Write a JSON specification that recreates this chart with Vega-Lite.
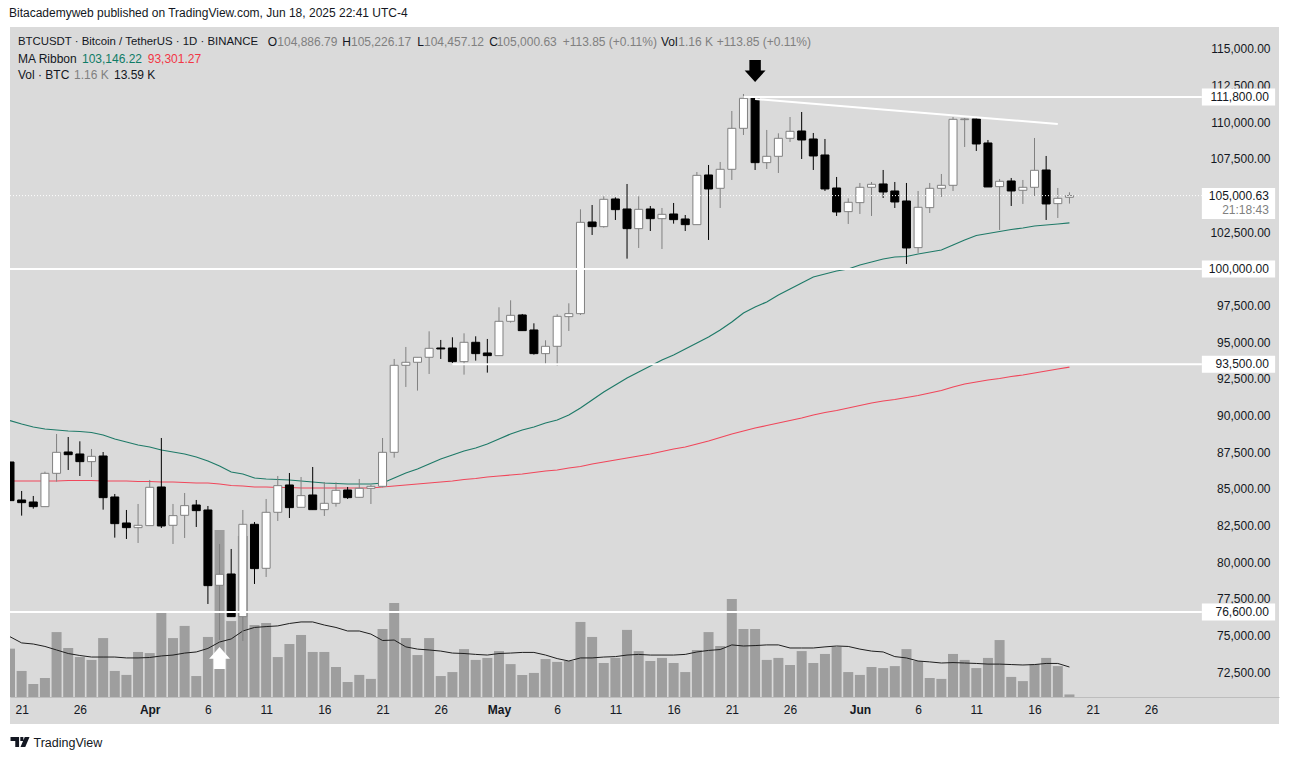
{
  "$schema": "https://vega.github.io/schema/vega-lite/v6.json",
  "width": 1269,
  "height": 697,
  "autosize": {"type": "none"},
  "padding": {"left": 10, "top": 27, "right": 10, "bottom": 36},
  "background": "#ffffff",
  "view": {"fill": "#dadada", "stroke": null},
  "config": {"font": "Liberation Sans", "scale": {"continuousPadding": 0}},
  "title": {
    "text": "Bitacademyweb published on TradingView.com, Jun 18, 2025 22:41 UTC-4",
    "anchor": "start",
    "fontSize": 12,
    "fontWeight": "normal",
    "color": "#131722",
    "offset": 7
  },
  "datasets": {
    "candles": [
      {"date":"2025-03-20","open":86834,"high":86834,"low":84198,"close":84198,"volume":21.9,"vol_ma":27.3,"ma50":89650,"ma200":85538},
      {"date":"2025-03-21","open":84243,"high":84857,"low":83175,"close":84061,"volume":11.8,"vol_ma":24.5,"ma50":89425,"ma200":85538},
      {"date":"2025-03-22","open":84107,"high":84516,"low":83652,"close":83788,"volume":5.9,"vol_ma":24.0,"ma50":89221,"ma200":85538},
      {"date":"2025-03-23","open":83788,"high":86175,"low":83788,"close":86061,"volume":8.6,"vol_ma":22.9,"ma50":89084,"ma200":85538},
      {"date":"2025-03-24","open":86061,"high":88744,"low":85493,"close":87493,"volume":29.4,"vol_ma":21.3,"ma50":89016,"ma200":85538},
      {"date":"2025-03-25","open":87516,"high":88539,"low":86289,"close":87334,"volume":22.2,"vol_ma":19.7,"ma50":88948,"ma200":85572},
      {"date":"2025-03-26","open":87380,"high":88244,"low":85880,"close":86857,"volume":18.1,"vol_ma":18.8,"ma50":88914,"ma200":85572},
      {"date":"2025-03-27","open":86857,"high":87721,"low":85811,"close":87221,"volume":16.8,"vol_ma":18.1,"ma50":88845,"ma200":85572},
      {"date":"2025-03-28","open":87243,"high":87516,"low":83584,"close":84402,"volume":26.7,"vol_ma":18.1,"ma50":88675,"ma200":85538},
      {"date":"2025-03-29","open":84448,"high":84652,"low":81674,"close":82629,"volume":11.8,"vol_ma":18.1,"ma50":88402,"ma200":85538},
      {"date":"2025-03-30","open":82675,"high":83561,"low":81584,"close":82356,"volume":10.0,"vol_ma":17.7,"ma50":88198,"ma200":85538},
      {"date":"2025-03-31","open":82356,"high":83970,"low":81311,"close":82516,"volume":20.4,"vol_ma":17.7,"ma50":87993,"ma200":85504},
      {"date":"2025-04-01","open":82493,"high":85607,"low":82493,"close":85107,"volume":19.9,"vol_ma":17.9,"ma50":87857,"ma200":85504},
      {"date":"2025-04-02","open":85130,"high":88471,"low":82334,"close":82470,"volume":38.1,"vol_ma":18.6,"ma50":87652,"ma200":85470},
      {"date":"2025-04-03","open":82516,"high":83970,"low":81243,"close":83175,"volume":26.7,"vol_ma":19.0,"ma50":87516,"ma200":85470},
      {"date":"2025-04-04","open":83198,"high":84720,"low":81652,"close":83857,"volume":32.2,"vol_ma":19.9,"ma50":87379,"ma200":85435},
      {"date":"2025-04-05","open":83902,"high":84243,"low":82402,"close":83516,"volume":9.5,"vol_ma":20.4,"ma50":87175,"ma200":85401},
      {"date":"2025-04-06","open":83561,"high":83834,"low":77151,"close":78401,"volume":27.2,"vol_ma":22.0,"ma50":86902,"ma200":85401},
      {"date":"2025-04-07","open":78424,"high":81243,"low":74696,"close":79174,"volume":75.7,"vol_ma":24.9,"ma50":86561,"ma200":85333},
      {"date":"2025-04-08","open":79197,"high":80902,"low":76287,"close":76287,"volume":34.4,"vol_ma":26.3,"ma50":86152,"ma200":85231},
      {"date":"2025-04-09","open":76287,"high":83561,"low":74628,"close":82584,"volume":72.9,"vol_ma":29.9,"ma50":86015,"ma200":85197},
      {"date":"2025-04-10","open":82584,"high":82743,"low":78515,"close":79561,"volume":32.6,"vol_ma":31.5,"ma50":85742,"ma200":85129},
      {"date":"2025-04-11","open":79583,"high":84311,"low":78992,"close":83402,"volume":33.5,"vol_ma":31.9,"ma50":85674,"ma200":85129},
      {"date":"2025-04-12","open":83402,"high":85880,"low":82811,"close":85220,"volume":18.1,"vol_ma":32.2,"ma50":85640,"ma200":85094},
      {"date":"2025-04-13","open":85266,"high":86084,"low":83016,"close":83720,"volume":24.0,"vol_ma":33.3,"ma50":85606,"ma200":85094},
      {"date":"2025-04-14","open":83743,"high":85811,"low":83743,"close":84539,"volume":28.1,"vol_ma":34.0,"ma50":85538,"ma200":85060},
      {"date":"2025-04-15","open":84584,"high":86493,"low":83584,"close":83584,"volume":20.4,"vol_ma":34.0,"ma50":85470,"ma200":85060},
      {"date":"2025-04-16","open":83584,"high":85470,"low":83152,"close":84016,"volume":20.4,"vol_ma":32.6,"ma50":85401,"ma200":85060},
      {"date":"2025-04-17","open":84016,"high":85448,"low":83788,"close":84902,"volume":13.6,"vol_ma":31.5,"ma50":85367,"ma200":85060},
      {"date":"2025-04-18","open":84925,"high":85130,"low":84311,"close":84402,"volume":6.8,"vol_ma":29.9,"ma50":85333,"ma200":85060},
      {"date":"2025-04-19","open":84425,"high":85675,"low":84425,"close":85038,"volume":10.0,"vol_ma":29.9,"ma50":85333,"ma200":85060},
      {"date":"2025-04-20","open":85038,"high":85266,"low":83970,"close":85175,"volume":8.2,"vol_ma":28.5,"ma50":85333,"ma200":85060},
      {"date":"2025-04-21","open":85175,"high":88471,"low":85107,"close":87493,"volume":30.8,"vol_ma":25.6,"ma50":85401,"ma200":85129},
      {"date":"2025-04-22","open":87493,"high":93860,"low":87130,"close":93428,"volume":42.6,"vol_ma":25.8,"ma50":85742,"ma200":85197},
      {"date":"2025-04-23","open":93428,"high":94678,"low":91951,"close":93633,"volume":26.7,"vol_ma":22.7,"ma50":86083,"ma200":85265},
      {"date":"2025-04-24","open":93633,"high":93974,"low":91701,"close":93974,"volume":19.0,"vol_ma":21.7,"ma50":86356,"ma200":85333},
      {"date":"2025-04-25","open":93974,"high":95747,"low":92837,"close":94587,"volume":26.7,"vol_ma":21.3,"ma50":86697,"ma200":85401},
      {"date":"2025-04-26","open":94610,"high":95156,"low":93860,"close":94542,"volume":9.5,"vol_ma":20.8,"ma50":87038,"ma200":85470},
      {"date":"2025-04-27","open":94610,"high":95337,"low":93587,"close":93678,"volume":11.3,"vol_ma":19.9,"ma50":87311,"ma200":85538},
      {"date":"2025-04-28","open":93678,"high":95610,"low":92792,"close":94997,"volume":21.7,"vol_ma":19.7,"ma50":87584,"ma200":85640},
      {"date":"2025-04-29","open":94997,"high":95406,"low":93746,"close":94224,"volume":16.8,"vol_ma":19.3,"ma50":87788,"ma200":85708},
      {"date":"2025-04-30","open":94269,"high":95224,"low":92928,"close":94087,"volume":17.7,"vol_ma":19.0,"ma50":88061,"ma200":85811},
      {"date":"2025-05-01","open":94087,"high":97383,"low":94087,"close":96429,"volume":20.8,"vol_ma":19.7,"ma50":88402,"ma200":85879},
      {"date":"2025-05-02","open":96429,"high":97861,"low":96338,"close":96838,"volume":14.9,"vol_ma":19.9,"ma50":88743,"ma200":85947},
      {"date":"2025-05-03","open":96861,"high":96929,"low":95792,"close":95792,"volume":10.0,"vol_ma":20.2,"ma50":89016,"ma200":86015},
      {"date":"2025-05-04","open":95838,"high":96292,"low":94156,"close":94224,"volume":10.9,"vol_ma":20.2,"ma50":89221,"ma200":86117},
      {"date":"2025-05-05","open":94224,"high":95133,"low":93519,"close":94724,"volume":17.2,"vol_ma":19.0,"ma50":89493,"ma200":86220},
      {"date":"2025-05-06","open":94724,"high":96906,"low":93406,"close":96769,"volume":15.9,"vol_ma":17.4,"ma50":89698,"ma200":86288},
      {"date":"2025-05-07","open":96747,"high":97656,"low":95770,"close":96951,"volume":16.3,"vol_ma":16.3,"ma50":90039,"ma200":86424},
      {"date":"2025-05-08","open":96951,"high":104066,"low":96860,"close":103179,"volume":34.0,"vol_ma":17.7,"ma50":90516,"ma200":86527},
      {"date":"2025-05-09","open":103202,"high":104361,"low":102316,"close":102884,"volume":27.2,"vol_ma":17.7,"ma50":91062,"ma200":86697},
      {"date":"2025-05-10","open":102884,"high":104952,"low":102816,"close":104748,"volume":15.4,"vol_ma":18.1,"ma50":91608,"ma200":86834},
      {"date":"2025-05-11","open":104771,"high":104884,"low":103339,"close":104043,"volume":17.7,"vol_ma":18.3,"ma50":92085,"ma200":86970},
      {"date":"2025-05-12","open":104089,"high":105793,"low":100702,"close":102748,"volume":30.4,"vol_ma":19.0,"ma50":92562,"ma200":87106},
      {"date":"2025-05-13","open":102748,"high":104952,"low":101429,"close":104066,"volume":20.8,"vol_ma":19.3,"ma50":92972,"ma200":87243},
      {"date":"2025-05-14","open":104089,"high":104293,"low":102588,"close":103429,"volume":16.3,"vol_ma":19.0,"ma50":93381,"ma200":87379},
      {"date":"2025-05-15","open":103429,"high":104157,"low":101361,"close":103725,"volume":17.7,"vol_ma":19.0,"ma50":93790,"ma200":87550},
      {"date":"2025-05-16","open":103748,"high":104498,"low":103089,"close":103361,"volume":15.4,"vol_ma":19.0,"ma50":94131,"ma200":87720},
      {"date":"2025-05-17","open":103407,"high":103679,"low":102588,"close":103020,"volume":11.3,"vol_ma":19.3,"ma50":94540,"ma200":87857},
      {"date":"2025-05-18","open":103020,"high":106612,"low":103020,"close":106384,"volume":21.3,"vol_ma":20.4,"ma50":94949,"ma200":88061},
      {"date":"2025-05-19","open":106408,"high":107090,"low":101976,"close":105454,"volume":29.4,"vol_ma":21.1,"ma50":95359,"ma200":88266},
      {"date":"2025-05-20","open":105499,"high":107295,"low":104158,"close":106795,"volume":23.1,"vol_ma":21.5,"ma50":95836,"ma200":88504},
      {"date":"2025-05-21","open":106795,"high":110772,"low":106067,"close":109590,"volume":44.4,"vol_ma":23.6,"ma50":96382,"ma200":88743},
      {"date":"2025-05-22","open":109590,"high":111932,"low":109136,"close":111636,"volume":30.8,"vol_ma":23.1,"ma50":96995,"ma200":88948},
      {"date":"2025-05-23","open":111659,"high":111727,"low":106749,"close":107249,"volume":30.8,"vol_ma":23.3,"ma50":97405,"ma200":89152},
      {"date":"2025-05-24","open":107249,"high":109477,"low":106817,"close":107681,"volume":16.8,"vol_ma":23.6,"ma50":97746,"ma200":89323},
      {"date":"2025-05-25","open":107681,"high":109250,"low":106545,"close":108909,"volume":17.7,"vol_ma":23.6,"ma50":98223,"ma200":89493},
      {"date":"2025-05-26","open":108909,"high":110363,"low":108659,"close":109386,"volume":14.5,"vol_ma":22.2,"ma50":98632,"ma200":89664},
      {"date":"2025-05-27","open":109409,"high":110704,"low":107499,"close":108795,"volume":20.8,"vol_ma":22.2,"ma50":99041,"ma200":89834},
      {"date":"2025-05-28","open":108863,"high":109272,"low":106749,"close":107704,"volume":15.4,"vol_ma":22.2,"ma50":99451,"ma200":90039},
      {"date":"2025-05-29","open":107772,"high":108863,"low":105317,"close":105454,"volume":19.5,"vol_ma":22.7,"ma50":99655,"ma200":90209},
      {"date":"2025-05-30","open":105522,"high":106272,"low":103613,"close":103885,"volume":22.7,"vol_ma":23.1,"ma50":99860,"ma200":90346},
      {"date":"2025-05-31","open":103908,"high":104817,"low":103067,"close":104544,"volume":11.3,"vol_ma":22.9,"ma50":99996,"ma200":90516},
      {"date":"2025-06-01","open":104522,"high":105863,"low":103749,"close":105567,"volume":10.0,"vol_ma":21.7,"ma50":100269,"ma200":90687},
      {"date":"2025-06-02","open":105567,"high":105931,"low":103613,"close":105772,"volume":13.6,"vol_ma":20.8,"ma50":100474,"ma200":90857},
      {"date":"2025-06-03","open":105795,"high":106749,"low":104840,"close":105249,"volume":13.1,"vol_ma":20.4,"ma50":100678,"ma200":90994},
      {"date":"2025-06-04","open":105317,"high":105931,"low":104158,"close":104567,"volume":14.0,"vol_ma":18.3,"ma50":100815,"ma200":91096},
      {"date":"2025-06-05","open":104635,"high":105863,"low":100339,"close":101430,"volume":21.7,"vol_ma":17.7,"ma50":100849,"ma200":91232},
      {"date":"2025-06-06","open":101453,"high":105317,"low":101090,"close":104204,"volume":16.3,"vol_ma":16.3,"ma50":101019,"ma200":91369},
      {"date":"2025-06-07","open":104181,"high":105863,"low":103817,"close":105499,"volume":8.6,"vol_ma":15.9,"ma50":101156,"ma200":91539},
      {"date":"2025-06-08","open":105499,"high":106476,"low":104908,"close":105704,"volume":8.2,"vol_ma":15.4,"ma50":101292,"ma200":91710},
      {"date":"2025-06-09","open":105704,"high":110363,"low":105317,"close":110204,"volume":19.5,"vol_ma":15.6,"ma50":101633,"ma200":91949},
      {"date":"2025-06-10","open":110181,"high":110295,"low":108318,"close":110227,"volume":16.8,"vol_ma":15.4,"ma50":101974,"ma200":92153},
      {"date":"2025-06-11","open":110227,"high":110272,"low":108045,"close":108522,"volume":13.1,"vol_ma":15.2,"ma50":102281,"ma200":92290},
      {"date":"2025-06-12","open":108590,"high":108795,"low":105590,"close":105590,"volume":17.7,"vol_ma":14.9,"ma50":102417,"ma200":92426},
      {"date":"2025-06-13","open":105613,"high":106136,"low":102658,"close":105976,"volume":25.8,"vol_ma":14.9,"ma50":102554,"ma200":92528},
      {"date":"2025-06-14","open":105999,"high":106204,"low":104294,"close":105317,"volume":9.1,"vol_ma":14.7,"ma50":102690,"ma200":92665},
      {"date":"2025-06-15","open":105363,"high":106067,"low":104431,"close":105567,"volume":7.2,"vol_ma":14.5,"ma50":102792,"ma200":92767},
      {"date":"2025-06-16","open":105567,"high":108931,"low":104976,"close":106727,"volume":14.9,"vol_ma":14.7,"ma50":102929,"ma200":92903},
      {"date":"2025-06-17","open":106749,"high":107704,"low":103340,"close":104431,"volume":17.7,"vol_ma":15.2,"ma50":102997,"ma200":93040},
      {"date":"2025-06-18","open":104454,"high":105522,"low":103476,"close":104817,"volume":14.0,"vol_ma":15.2,"ma50":103065,"ma200":93176},
      {"date":"2025-06-19","open":104886.79,"high":105226.17,"low":104457.12,"close":105000.63,"volume":1.16,"vol_ma":13.59,"ma50":103146.22,"ma200":93301.27}
    ],
    "levels": [
      {"date":"2025-05-22","end":"2025-06-30T09:00:00Z","price":111730},
      {"date":"2025-03-20","end":"2025-06-30T09:00:00Z","price":100000},
      {"date":"2025-04-27","end":"2025-06-30T09:00:00Z","price":93500},
      {"date":"2025-03-20","end":"2025-06-30T09:00:00Z","price":76600}
    ],
    "tags": [
      {"date":"2025-06-30T09:00:00Z","end":"2025-07-06T16:00:00Z","price":111730},
      {"date":"2025-06-30T09:00:00Z","end":"2025-07-06T16:00:00Z","price":100000},
      {"date":"2025-06-30T09:00:00Z","end":"2025-07-06T16:00:00Z","price":93500},
      {"date":"2025-06-30T09:00:00Z","end":"2025-07-06T16:00:00Z","price":76600}
    ],
    "tagtext": [
      {"date":"2025-06-30T09:00:00Z","price":111730,"label":"111,800.00","tone":"dark"},
      {"date":"2025-06-30T09:00:00Z","price":105000,"label":"105,000.63","tone":"dark"},
      {"date":"2025-06-30T09:00:00Z","price":104020,"label":"21:18:43","tone":"grey"},
      {"date":"2025-06-30T09:00:00Z","price":100000,"label":"100,000.00","tone":"dark"},
      {"date":"2025-06-30T09:00:00Z","price":93500,"label":"93,500.00","tone":"dark"},
      {"date":"2025-06-30T09:00:00Z","price":76600,"label":"76,600.00","tone":"dark"}
    ],
    "status": [
      {"date":"2025-04-11T03:12:00Z","price":115477,"label":"O","tone":"dark"},
      {"date":"2025-04-11T23:00:00Z","price":115477,"label":"104,886.79","tone":"grey"},
      {"date":"2025-04-17T13:00:00Z","price":115477,"label":"H","tone":"dark"},
      {"date":"2025-04-18T07:00:00Z","price":115477,"label":"105,226.17","tone":"grey"},
      {"date":"2025-04-23T23:36:00Z","price":115477,"label":"L","tone":"dark"},
      {"date":"2025-04-24T13:24:00Z","price":115477,"label":"104,457.12","tone":"grey"},
      {"date":"2025-04-30T04:00:00Z","price":115477,"label":"C","tone":"dark"},
      {"date":"2025-04-30T19:18:00Z","price":115477,"label":"105,000.63","tone":"grey"},
      {"date":"2025-05-06T11:18:00Z","price":115477,"label":"+113.85 (+0.11%)","tone":"grey"},
      {"date":"2025-05-14T22:00:00Z","price":115477,"label":"Vol","tone":"dark"},
      {"date":"2025-05-16T09:36:00Z","price":115477,"label":"1.16 K","tone":"grey"},
      {"date":"2025-05-19T16:48:00Z","price":115477,"label":"+113.85 (+0.11%)","tone":"grey"},
      {"date":"2025-03-20T16:30:00Z","price":114318,"label":"MA Ribbon","tone":"dark"},
      {"date":"2025-03-26T04:24:00Z","price":114318,"label":"103,146.22","tone":"green"},
      {"date":"2025-03-31T19:54:00Z","price":114318,"label":"93,301.27","tone":"red"},
      {"date":"2025-03-20T16:30:00Z","price":113193,"label":"Vol · BTC","tone":"dark"},
      {"date":"2025-03-25T11:54:00Z","price":113193,"label":"1.16 K","tone":"grey"},
      {"date":"2025-03-28T22:24:00Z","price":113193,"label":"13.59 K","tone":"dark"}
    ]
  },
  "encoding": {
    "x": {
      "field": "date",
      "type": "temporal",
      "title": null,
      "scale": {
        "type": "utc",
        "nice": false,
        "domain": [
          {"year": 2025, "month": "mar", "date": 20, "utc": true},
          {"year": 2025, "month": "jul", "date": 7, "utc": true}
        ]
      },
      "axis": null
    }
  },
  "layer": [
    {
      "data": {"name": "candles"},
      "encoding": {
        "x": {
          "field": "date",
          "type": "temporal",
          "scale": {
            "type": "utc",
            "nice": false,
            "domain": [
              {"year": 2025, "month": "mar", "date": 20, "utc": true},
              {"year": 2025, "month": "jul", "date": 7, "utc": true}
            ]
          },
          "axis": {
            "title": "TradingView",
            "titleFontSize": 12.5,
            "titleFontWeight": "normal",
            "titleColor": "#131722",
            "titleX": 23,
            "titleY": 45,
            "titleAlign": "left",
            "titleBaseline": "middle",
            "offset": -27,
            "ticks": false,
            "grid": false,
            "domainColor": "#bdbdbd",
            "labelColor": "#131722",
            "labelFontSize": 12,
            "labelPadding": 7,
            "labelOverlap": false,
            "labelFlush": false,
            "labelFontWeight": {"condition": {"test": "utcdate(datum.value) == 1", "value": "bold"}, "value": "normal"},
            "labelExpr": "utcdate(datum.value) == 1 ? utcFormat(datum.value, '%b') : utcFormat(datum.value, '%-d')",
            "values": [
              {"year": 2025, "month": "mar", "date": 21, "utc": true},
              {"year": 2025, "month": "mar", "date": 26, "utc": true},
              {"year": 2025, "month": "apr", "date": 1, "utc": true},
              {"year": 2025, "month": "apr", "date": 6, "utc": true},
              {"year": 2025, "month": "apr", "date": 11, "utc": true},
              {"year": 2025, "month": "apr", "date": 16, "utc": true},
              {"year": 2025, "month": "apr", "date": 21, "utc": true},
              {"year": 2025, "month": "apr", "date": 26, "utc": true},
              {"year": 2025, "month": "may", "date": 1, "utc": true},
              {"year": 2025, "month": "may", "date": 6, "utc": true},
              {"year": 2025, "month": "may", "date": 11, "utc": true},
              {"year": 2025, "month": "may", "date": 16, "utc": true},
              {"year": 2025, "month": "may", "date": 21, "utc": true},
              {"year": 2025, "month": "may", "date": 26, "utc": true},
              {"year": 2025, "month": "jun", "date": 1, "utc": true},
              {"year": 2025, "month": "jun", "date": 6, "utc": true},
              {"year": 2025, "month": "jun", "date": 11, "utc": true},
              {"year": 2025, "month": "jun", "date": 16, "utc": true},
              {"year": 2025, "month": "jun", "date": 21, "utc": true},
              {"year": 2025, "month": "jun", "date": 26, "utc": true}
            ]
          }
        }
      },
      "layer": [
        {
          "mark": {"type": "bar", "width": 10, "color": "#9e9e9e", "clip": true},
          "encoding": {
            "y": {"field": "volume", "type": "quantitative", "stack": null, "scale": {"domain": [-12.23, 303.5], "nice": false}, "axis": null}
          }
        },
        {
          "mark": {"type": "line", "color": "#1e1e1e", "strokeWidth": 1, "clip": true},
          "encoding": {
            "y": {"field": "vol_ma", "type": "quantitative", "scale": {"domain": [-12.23, 303.5], "nice": false}, "axis": null}
          }
        }
      ]
    },
    {
      "resolve": {"axis": {"y": "independent"}},
      "layer": [
        {
          "data": {"name": "candles"},
          "mark": {"type": "line", "color": "#f0475b", "strokeWidth": 1.2, "clip": true},
          "encoding": {
            "y": {
              "field": "ma200",
              "type": "quantitative",
              "scale": {"domain": [68965, 116500], "nice": false, "zero": false},
              "axis": {
                "orient": "right",
                "title": null,
                "ticks": false,
                "grid": false,
                "domain": false,
                "labelAlign": "right",
                "labelPadding": -9,
                "labelColor": "#131722",
                "labelFontSize": 12,
                "labelOverlap": false,
                "format": ",.2f",
                "values": [72500, 75000, 77500, 80000, 82500, 85000, 87500, 90000, 92500, 95000, 97500, 100000, 102500, 105000, 107500, 110000, 112500, 115000]
              }
            }
          }
        },
        {
          "data": {"name": "candles"},
          "mark": {"type": "line", "color": "#1f7a68", "strokeWidth": 1.2, "clip": true},
          "encoding": {
            "y": {"field": "ma50", "type": "quantitative", "scale": {"domain": [68965, 116500], "nice": false, "zero": false}, "axis": null}
          }
        },
        {
          "data": {"name": "candles"},
          "mark": {"type": "rule", "strokeWidth": 1, "clip": true},
          "encoding": {
            "y": {"field": "low", "type": "quantitative", "scale": {"domain": [68965, 116500], "nice": false, "zero": false}, "axis": null},
            "y2": {"field": "high"},
            "color": {"condition": {"test": "datum.close >= datum.open", "value": "#808080"}, "value": "#000000"}
          }
        },
        {
          "data": {"name": "candles"},
          "mark": {"type": "bar", "width": 8, "strokeWidth": 1, "clip": true},
          "encoding": {
            "y": {"field": "open", "type": "quantitative", "scale": {"domain": [68965, 116500], "nice": false, "zero": false}, "axis": null},
            "y2": {"field": "close"},
            "fill": {"condition": {"test": "datum.close >= datum.open", "value": "#ffffff"}, "value": "#000000"},
            "stroke": {"condition": {"test": "datum.close >= datum.open", "value": "#808080"}, "value": "#000000"}
          }
        },
        {
          "data": {"values": [{"date": "2025-03-20", "end": "2025-06-30T09:00:00Z", "price": 105000.63}]},
          "mark": {"type": "rule", "color": "#ffffff", "strokeWidth": 1, "strokeDash": [1, 2]},
          "encoding": {
            "y": {"field": "price", "type": "quantitative", "scale": {"domain": [68965, 116500], "nice": false, "zero": false}, "axis": null},
            "x2": {"field": "end"}
          }
        },
        {
          "data": {"name": "levels"},
          "mark": {"type": "rule", "color": "#ffffff", "strokeWidth": 2},
          "encoding": {
            "y": {"field": "price", "type": "quantitative", "scale": {"domain": [68965, 116500], "nice": false, "zero": false}, "axis": null},
            "x2": {"field": "end"}
          }
        },
        {
          "data": {"values": [{"date": "2025-05-23", "price": 111590}, {"date": "2025-06-18", "price": 109885}]},
          "mark": {"type": "line", "color": "#ffffff", "strokeWidth": 2},
          "encoding": {
            "y": {"field": "price", "type": "quantitative", "scale": {"domain": [68965, 116500], "nice": false, "zero": false}, "axis": null}
          }
        },
        {
          "data": {"name": "tags"},
          "mark": {"type": "bar", "orient": "horizontal", "height": 17, "color": "#ffffff"},
          "encoding": {
            "y": {"field": "price", "type": "quantitative", "scale": {"domain": [68965, 116500], "nice": false, "zero": false}, "axis": null},
            "x2": {"field": "end"}
          }
        },
        {
          "data": {"values": [{"date": "2025-06-30T09:00:00Z", "end": "2025-07-06T16:00:00Z", "price": 104470}]},
          "mark": {"type": "bar", "orient": "horizontal", "height": 31, "color": "#ffffff"},
          "encoding": {
            "y": {"field": "price", "type": "quantitative", "scale": {"domain": [68965, 116500], "nice": false, "zero": false}, "axis": null},
            "x2": {"field": "end"}
          }
        },
        {
          "data": {"name": "tagtext"},
          "mark": {"type": "text", "align": "right", "baseline": "middle", "dx": 67, "fontSize": 12},
          "encoding": {
            "y": {"field": "price", "type": "quantitative", "scale": {"domain": [68965, 116500], "nice": false, "zero": false}, "axis": null},
            "text": {"field": "label"},
            "color": {"field": "tone", "type": "nominal", "legend": null, "scale": {"domain": ["dark", "grey", "green", "red"], "range": ["#131722", "#808080", "#0e7c66", "#f23645"]}}
          }
        },
        {
          "data": {"name": "status"},
          "mark": {"type": "text", "align": "left", "baseline": "middle", "fontSize": 12},
          "encoding": {
            "y": {"field": "price", "type": "quantitative", "scale": {"domain": [68965, 116500], "nice": false, "zero": false}, "axis": null},
            "text": {"field": "label"},
            "color": {"field": "tone", "type": "nominal", "legend": null, "scale": {"domain": ["dark", "grey", "green", "red"], "range": ["#131722", "#808080", "#0e7c66", "#f23645"]}}
          }
        },
        {
          "data": {"values": [{"date": "2025-03-20T16:30:00Z", "price": 115477, "label": "BTCUSDT · Bitcoin / TetherUS · 1D · BINANCE"}]},
          "mark": {"type": "text", "align": "left", "baseline": "middle", "fontSize": 11.4, "color": "#131722"},
          "encoding": {
            "y": {"field": "price", "type": "quantitative", "scale": {"domain": [68965, 116500], "nice": false, "zero": false}, "axis": null},
            "text": {"field": "label"}
          }
        },
        {
          "data": {"values": [{"date": "2025-05-23", "price": 113500}]},
          "mark": {"type": "point", "filled": true, "opacity": 1, "color": "#000000", "size": 484, "shape": "M-0.52,-1L0.52,-1L0.52,-0.05L0.95,-0.05L0,1L-0.95,-0.05L-0.52,-0.05Z"},
          "encoding": {
            "y": {"field": "price", "type": "quantitative", "scale": {"domain": [68965, 116500], "nice": false, "zero": false}, "axis": null}
          }
        },
        {
          "data": {"values": [{"date": "2025-04-07", "price": 73460}]},
          "mark": {"type": "point", "filled": true, "opacity": 1, "color": "#ffffff", "size": 484, "shape": "M-0.52,1L0.52,1L0.52,0.05L0.95,0.05L0,-1L-0.95,0.05L-0.52,0.05Z"},
          "encoding": {
            "y": {"field": "price", "type": "quantitative", "scale": {"domain": [68965, 116500], "nice": false, "zero": false}, "axis": null}
          }
        },
        {
          "data": {"values": [{"date": "2025-03-20T20:40:00Z", "price": 67737}]},
          "mark": {"type": "point", "filled": true, "opacity": 1, "color": "#131722", "size": 361, "shape": "M-1,-0.53L-0.1,-0.53L-0.1,0.53L-0.5,0.53L-0.5,-0.1L-1,-0.1ZM0.03,-0.53L0.35,-0.53L0.35,-0.1L0.03,-0.1ZM0.5,-0.53L1,-0.53L0.55,0.53L0.05,0.53Z"},
          "encoding": {
            "y": {"field": "price", "type": "quantitative", "scale": {"domain": [68965, 116500], "nice": false, "zero": false}, "axis": null}
          }
        }
      ]
    }
  ],
  "resolve": {"scale": {"y": "independent", "color": "independent"}, "axis": {"x": "independent"}}
}
